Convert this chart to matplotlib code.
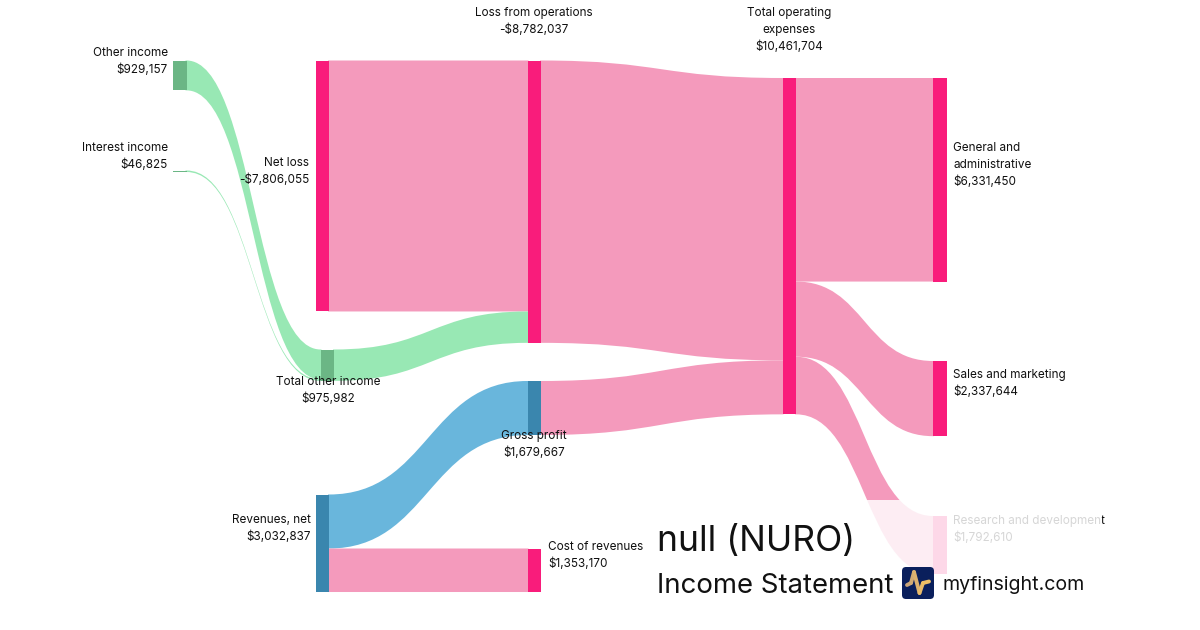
import matplotlib
matplotlib.use('Agg')
import matplotlib.pyplot as plt
import numpy as np
from matplotlib.path import Path
from matplotlib.patches import PathPatch, Rectangle, FancyBboxPatch

plt.rcParams['font.family'] = ['Inter', 'DejaVu Sans']

# values from the statement
node_names = ['Other income', 'Interest income', 'Total other income', 'Net loss',
              'Loss from operations', 'Gross profit', 'Revenues, net', 'Cost of revenues',
              'Total operating expenses', 'General and administrative',
              'Sales and marketing', 'Research and development']
node_values = [929157, 46825, 975982, 7806055,
               8782037, 1679667, 3032837, 1353170,
               10461704, 6331450, 2337644, 1792610]
value_labels = ['$929,157', '$46,825', '$975,982', '-$7,806,055',
                '-$8,782,037', '$1,679,667', '$3,032,837', '$1,353,170',
                '$10,461,704', '$6,331,450', '$2,337,644', '$1,792,610']
link_sources = [0, 1, 3, 2, 4, 5, 6, 6, 8, 8, 8]
link_targets = [2, 2, 4, 4, 8, 8, 5, 7, 9, 10, 11]
link_values = [929157, 46825, 7806055, 975982, 8782037, 1679667,
               1679667, 1353170, 6331450, 2337644, 1792610]
link_kinds = ['income', 'income', 'expense', 'income', 'expense', 'expense',
              'revenue', 'expense', 'expense', 'expense', 'expense']

# layout, in pixels
SCALE = 3.215e-5
NODE_W = 13.5
node_x = [173, 173, 320.5, 315.5, 527.5, 527.5, 315.5, 527.5, 782.5, 933, 933, 933]
node_top = [60.5, 170.5, 349.5, 60.5, 60.5, 381, 494.5, 548.5, 78, 78, 361, 516]
node_kinds = ['income', 'income', 'income', 'expense', 'expense', 'revenue',
              'revenue', 'expense', 'expense', 'expense', 'expense', 'expense']

LINK_COL = {'income': '#98E8B4', 'expense': '#F49ABC', 'revenue': '#69B6DC'}
NODE_COL = {'income': '#6BB685', 'expense': '#F91C7B', 'revenue': '#3A86AE'}
TEXT_COL = '#111111'
BASELINE = 4.3

# label anchor: x, y of first line, alignment
label_pos = {
    0: (168, 52, 'right'), 1: (168, 147, 'right'), 2: (328, 381, 'center'),
    3: (309.5, 162, 'right'), 4: (534, 12, 'center'), 5: (534, 435, 'center'),
    6: (310.5, 519, 'right'), 7: (548, 546, 'left'), 8: (789, 12, 'center'),
    9: (953, 147, 'left'), 10: (953, 374, 'left'), 11: (953, 520, 'left'),
}
label_lines = {8: ['Total operating', 'expenses'], 9: ['General and', 'administrative']}


def draw_link(ax, x0, x1, y0, y1, h, color):
    xm = (x0 + x1) / 2
    verts = [(x0 - 1, y0), (x0, y0), (xm, y0), (xm, y1), (x1, y1), (x1 + 1, y1),
             (x1 + 1, y1 + h), (x1, y1 + h),
             (xm, y1 + h), (xm, y0 + h), (x0, y0 + h), (x0 - 1, y0 + h),
             (x0 - 1, y0)]
    codes = [Path.MOVETO, Path.LINETO, Path.CURVE4, Path.CURVE4, Path.CURVE4, Path.LINETO,
             Path.LINETO, Path.LINETO,
             Path.CURVE4, Path.CURVE4, Path.CURVE4, Path.LINETO,
             Path.CLOSEPOLY]
    ax.add_patch(PathPatch(Path(verts, codes), fc=color, ec='none', zorder=2))


fig = plt.figure(figsize=(12, 6.3), dpi=100)
ax = fig.add_axes([0, 0, 1, 1])
ax.set_xlim(0, 1200)
ax.set_ylim(630, 0)
ax.axis('off')

out_used = [0.0] * len(node_names)
in_used = [0.0] * len(node_names)
for s, t, v, kind in zip(link_sources, link_targets, link_values, link_kinds):
    h = v * SCALE
    draw_link(ax, node_x[s] + NODE_W, node_x[t],
              node_top[s] + out_used[s], node_top[t] + in_used[t], h, LINK_COL[kind])
    out_used[s] += h
    in_used[t] += h

for i, v in enumerate(node_values):
    ax.add_patch(Rectangle((node_x[i], node_top[i]), NODE_W, v * SCALE,
                           fc=NODE_COL[node_kinds[i]], ec='none', zorder=3))

# white veil behind the title block
ax.add_patch(Rectangle((643, 500), 459, 110, fc='white', ec='none', alpha=0.83, zorder=4))

for i, name in enumerate(node_names):
    x, y, ha = label_pos[i]
    lines = label_lines.get(i, [name]) + [value_labels[i]]
    for k, line in enumerate(lines):
        ax.text(x, y + BASELINE + 17 * k, line, ha=ha, va='baseline', fontsize=8.45,
                color=TEXT_COL, zorder=5)

# the veil fades the R&D label too, apart from its last letter
ax.add_patch(Rectangle((953, 510), 148.5, 40, fc='white', ec='none', alpha=0.83, zorder=6))

ax.text(657, 541, 'null (NURO)', fontsize=25.5, color=TEXT_COL, va='center', ha='left', zorder=7)
ax.text(657, 586, 'Income Statement', fontsize=19.85, color=TEXT_COL, va='center', ha='left', zorder=7)
ax.text(942, 584.5, 'myfinsight.com', fontsize=14.1, color=TEXT_COL, va='center', ha='left', zorder=7)

# logo
ax.add_patch(FancyBboxPatch((904, 569), 28, 28, boxstyle='round,pad=2,rounding_size=4',
                            fc='#0A1F5C', ec='none', zorder=7))
pulse_x = np.array([907, 911, 914, 919.5, 923, 929])
pulse_y = np.array([585, 583, 572, 593, 583, 581.5])
pulse_col = ['#C9A57A', '#D2AB74', '#DDB26F', '#E8BB6A', '#EFC066']
for i in range(len(pulse_x) - 1):
    ax.plot(pulse_x[i:i + 2], pulse_y[i:i + 2], lw=2.8, solid_capstyle='round',
            color=pulse_col[i], zorder=8)

fig.savefig('out.png', dpi=100, facecolor='white')
